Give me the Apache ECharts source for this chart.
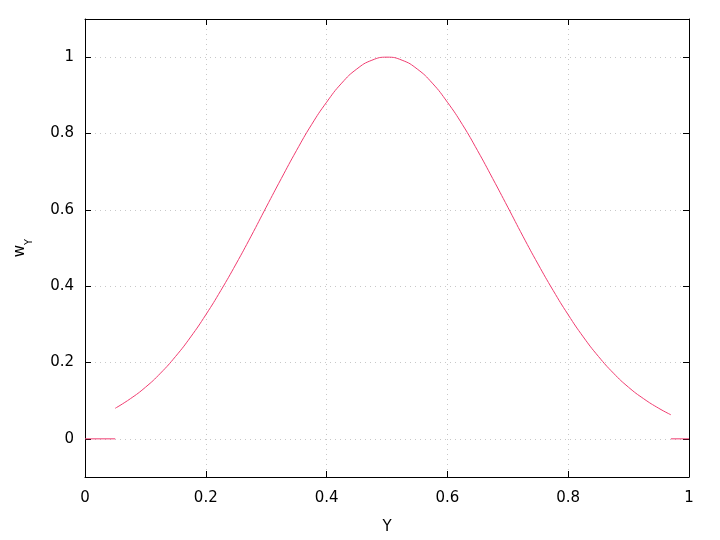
<!DOCTYPE html>
<html><head><meta charset="utf-8">
<script src="https://cdn.jsdelivr.net/npm/echarts@6/dist/echarts.min.js"></script>
<style>html,body{margin:0;padding:0;background:#fff}#c{width:720px;height:540px}</style>
</head><body><div id="c"></div>
<script>
// values
const curveX = [0.05,0.075,0.1,0.125,0.15,0.175,0.2,0.225,0.25,0.275,0.3,0.325,0.35,0.375,0.4,0.425,0.45,0.475,0.5,0.525,0.55,0.575,0.6,0.625,0.65,0.675,0.7,0.725,0.75,0.775,0.8,0.825,0.85,0.875,0.9,0.925,0.95,0.97];
const curveY = [0.080,0.105,0.135,0.172,0.216,0.267,0.325,0.389,0.458,0.531,0.607,0.682,0.755,0.823,0.882,0.932,0.969,0.992,1.000,0.992,0.969,0.932,0.882,0.823,0.755,0.682,0.607,0.531,0.458,0.389,0.325,0.267,0.216,0.172,0.135,0.105,0.080,0.063];
const zeroLeftX = [0, 0.05];
const zeroRightX = [0.97, 1];
const zeroY = [0, 0];
const xTicks = [0, 0.2, 0.4, 0.6, 0.8, 1];
const yTicks = [0, 0.2, 0.4, 0.6, 0.8, 1];

const col = '#f03c70';
const font = 'DejaVu Sans';
const pair = (xs, ys) => xs.map((x, i) => [x, ys[i]]);

const chart = echarts.init(document.getElementById('c'));
const splitDotted = {show: true, lineStyle: {color: '#c8c8c8', type: [1, 4], width: 1}};
chart.setOption({
  animation: false,
  grid: {left: 85, right: 31, top: 19, bottom: 59.55, show: false},
  xAxis: [{
    type: 'value', min: 0, max: 1, interval: 0.2, position: 'bottom',
    name: 'Y', nameLocation: 'middle', nameGap: 43,
    nameTextStyle: {color: '#000', fontFamily: font, fontSize: 15},
    axisLine: {show: true, onZero: false, lineStyle: {color: '#000', width: 1}},
    axisTick: {show: true, inside: true, length: 6, lineStyle: {color: '#000'}},
    axisLabel: {color: '#000', fontFamily: font, fontSize: 15, margin: 14},
    splitLine: splitDotted
  }, {
    type: 'value', min: 0, max: 1, interval: 0.2, position: 'top',
    axisLine: {show: true, onZero: false, lineStyle: {color: '#000', width: 1}},
    axisTick: {show: true, inside: true, length: 6, lineStyle: {color: '#000'}},
    axisLabel: {show: false}, splitLine: {show: false}
  }],
  yAxis: [{
    type: 'value', min: -0.1, max: 1.1, position: 'left',
    name: '{w|w}{s|Y}', nameLocation: 'middle', nameGap: 57, nameRotate: 90,
    nameTextStyle: {color: '#000', fontFamily: font, fontSize: 15,
      rich: {w: {fontFamily: font, fontSize: 15, color: '#000'},
             s: {fontFamily: font, fontSize: 10, color: '#000', verticalAlign: 'bottom', padding: [0,0,-6,0]}}},
    axisLine: {show: true, onZero: false, lineStyle: {color: '#000', width: 1}},
    axisTick: {show: true, inside: true, length: 6, lineStyle: {color: '#000'}, customValues: yTicks},
    axisLabel: {color: '#000', fontFamily: font, fontSize: 15, margin: 11, customValues: yTicks},
    splitLine: splitDotted
  }, {
    type: 'value', min: -0.1, max: 1.1, position: 'right',
    axisLine: {show: true, onZero: false, lineStyle: {color: '#000', width: 1}},
    axisTick: {show: true, inside: true, length: 6, lineStyle: {color: '#000'}, customValues: yTicks},
    axisLabel: {show: false}, splitLine: {show: false}
  }],
  series: [
    {type: 'line', data: pair(curveX, curveY), smooth: true, showSymbol: false, lineStyle: {color: col, width: 1}, itemStyle: {color: col}},
    {type: 'line', data: pair(zeroLeftX, zeroY), showSymbol: false, lineStyle: {color: col, width: 1}, itemStyle: {color: col}},
    {type: 'line', data: pair(zeroRightX, zeroY), showSymbol: false, lineStyle: {color: col, width: 1}, itemStyle: {color: col}}
  ]
});
</script></body></html>
